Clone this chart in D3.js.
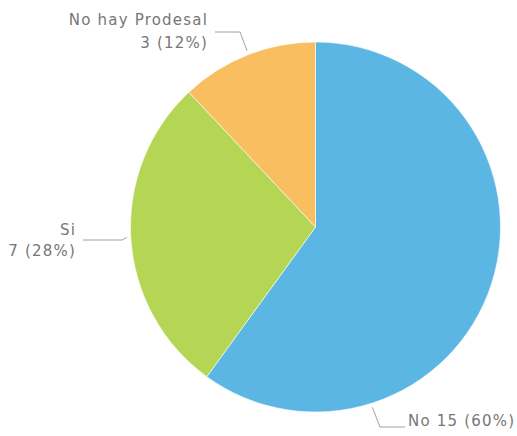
<!DOCTYPE html>
<html><head><meta charset="utf-8">
<script src="https://cdn.jsdelivr.net/npm/d3@7"></script>
<style>html,body{margin:0;padding:0;background:#fff;}</style>
</head><body>
<svg id="c" width="517" height="436"></svg>
<script>
const categories = ["No", "Si", "No hay Prodesal"];
const values = [15, 7, 3];
const percents = ["60%", "28%", "12%"];
const colors = ["#5CB6E3", "#B4D654", "#F8BE60"];

// layout (positions only)
const cx = 315.5, cy = 227, r = 185;
const labelLayout = [
  {angleDeg: 162.5, elbow: [380, 427], end: [405, 427], anchor: "start", tx: 408, lines: [426], oneLine: true},
  {angleDeg: 266.8, elbow: [122, 240], end: [83, 240], anchor: "end", tx: 76, lines: [235, 256]},
  {angleDeg: 338.8, elbow: [240, 32], end: [215, 32], anchor: "end", tx: 208, lines: [25, 48]}
];

const svg = d3.select("#c");
const g = svg.append("g").attr("transform", `translate(${cx},${cy})`);
const pie = d3.pie().sort(null).value(d => d)(values);
const arc = d3.arc().innerRadius(0).outerRadius(r);
g.selectAll("path").data(pie).enter().append("path")
  .attr("d", arc).attr("fill", (d,i) => colors[i])
  .attr("stroke", "#fff").attr("stroke-width", 0.6);

const font = "'DejaVu Sans', sans-serif";
labelLayout.forEach((L, i) => {
  const a = L.angleDeg * Math.PI / 180;
  const p = d3.arc().innerRadius(r + 4).outerRadius(r + 4).startAngle(a).endAngle(a).centroid();
  const start = [p[0] + cx, p[1] + cy];
  svg.append("path")
    .attr("d", d3.line()([start, L.elbow, L.end]))
    .attr("fill", "none").attr("stroke", "#a0a0a0").attr("stroke-width", 1);
  const t = svg.append("text").attr("text-anchor", L.anchor)
    .attr("font-family", font).attr("font-size", 15).attr("letter-spacing", 1.2)
    .attr("fill", "#777");
  if (L.oneLine) {
    t.append("tspan").attr("x", L.tx).attr("y", L.lines[0]).text(`${categories[i]} ${values[i]} (${percents[i]})`);
  } else {
    t.append("tspan").attr("x", L.tx).attr("y", L.lines[0]).text(categories[i]);
    t.append("tspan").attr("x", L.tx).attr("y", L.lines[1]).text(`${values[i]} (${percents[i]})`);
  }
});
</script>
</body></html>
